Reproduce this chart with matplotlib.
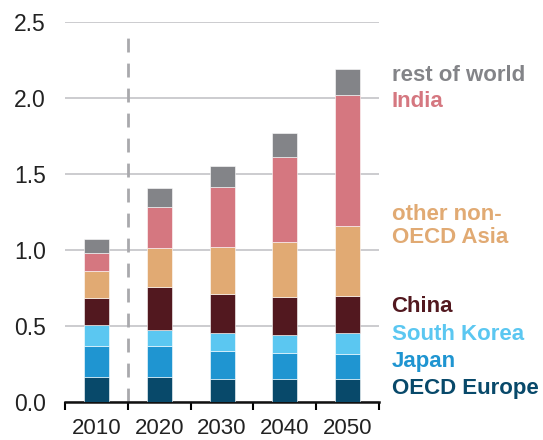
import numpy as np
import matplotlib.pyplot as plt

plt.rcParams['font.family'] = ['Liberation Sans', 'DejaVu Sans']

years = ['2010', '2020', '2030', '2040', '2050']
regions = ['OECD Europe', 'Japan', 'South Korea', 'China',
           'other non-OECD Asia', 'India', 'rest of world']

oecd_europe = [0.165, 0.165, 0.150, 0.147, 0.147]
japan = [0.205, 0.205, 0.185, 0.173, 0.170]
south_korea = [0.135, 0.105, 0.115, 0.121, 0.138]
china = [0.180, 0.280, 0.260, 0.250, 0.242]
other_asia = [0.175, 0.255, 0.310, 0.358, 0.461]
india = [0.120, 0.270, 0.395, 0.560, 0.860]
rest_of_world = [0.090, 0.125, 0.140, 0.158, 0.175]

colors = ['#08496a', '#1f95d1', '#5bc7f1', '#52181f',
          '#e1aa73', '#d57780', '#838488']

# legend text placement (data y) next to the bars
label_text = ['OECD Europe', 'Japan', 'South Korea', 'China',
              'other non-\nOECD Asia', 'India', 'rest of world']
label_y = [0.09, 0.262, 0.445, 0.63, 1.156, 1.974, 2.149]

series = [oecd_europe, japan, south_korea, china, other_asia, india, rest_of_world]

fig = plt.figure(figsize=(5.43, 4.40), dpi=100)
ax = fig.add_axes([0.120, 0.087, 0.578, 0.863])

x = np.arange(len(years))
bottom = np.zeros(len(years))
for vals, c in zip(series, colors):
    ax.bar(x, vals, width=0.4, bottom=bottom, color=c,
           edgecolor='white', linewidth=0.4, zorder=3)
    bottom += np.array(vals)

# projection divider between history and outlook
ax.plot([0.5, 0.5], [0, 2.45], color='#a9a9ad', linewidth=2,
        dashes=(5, 4), zorder=2)

ax.set_xlim(-0.5, 4.5)
ax.set_ylim(0, 2.5)
ax.set_yticks(np.arange(0, 2.51, 0.5))
ax.set_yticklabels(['%.1f' % v for v in np.arange(0, 2.51, 0.5)])
ax.yaxis.grid(True, color='#c8c8cb', linewidth=1.3, zorder=0)
ax.set_axisbelow(True)

ax.set_xticks(x)
ax.set_xticklabels(years)
ax.set_xticks(np.arange(-0.5, 5, 1), minor=True)
ax.tick_params(axis='x', which='major', length=0, pad=12, labelsize=16,
               labelcolor='#222222')
ax.tick_params(axis='x', which='minor', length=6, width=1.5, direction='out')
ax.tick_params(axis='y', length=0, pad=14, labelsize=16.5, labelcolor='#222222')

for s in ['top', 'right', 'left']:
    ax.spines[s].set_visible(False)
ax.spines['bottom'].set_linewidth(1.8)
ax.spines['bottom'].set_color('#111111')

for txt, yv, c in zip(label_text, label_y, colors):
    ax.text(4.7, yv, txt, color=c, fontsize=16, fontweight='bold',
            va='center', ha='left', linespacing=1.15, clip_on=False)

fig.savefig('out.png', dpi=100)
